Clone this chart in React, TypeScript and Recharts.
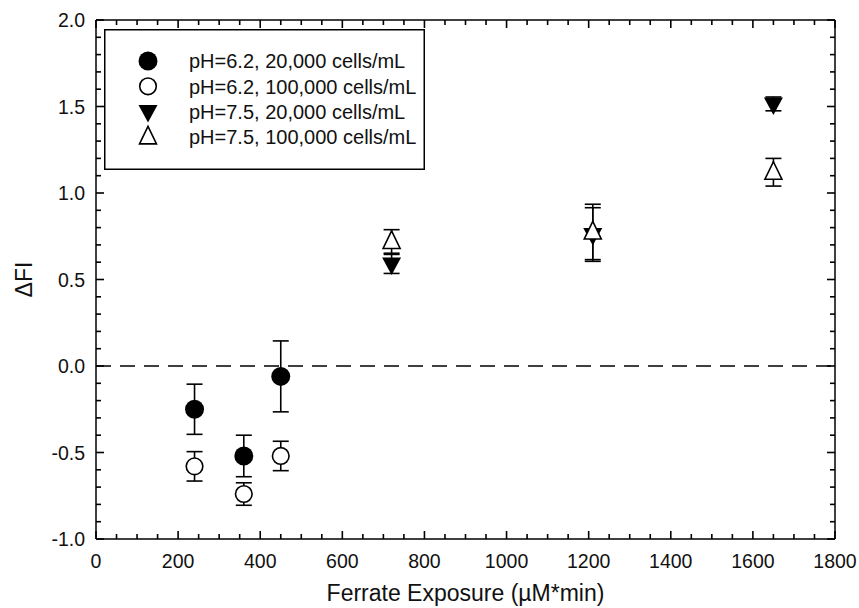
import {
	ScatterChart,
	Scatter,
	XAxis,
	YAxis,
	ErrorBar,
	ReferenceLine,
	Legend,
} from "recharts";

const FONT = '"Liberation Sans", Arial, sans-serif';
const CHART_W = 859;
const CHART_H = 608;
const MARGIN = { top: 19, right: 23, bottom: 0, left: 0 };
const PLOT_TOP = MARGIN.top + 1;
const PLOT_RIGHT = CHART_W - MARGIN.right - 1;

// tick positions (majors every 200 / 0.5, minors in between)
const xTicks = [
	0, 50, 100, 150, 200, 250, 300, 350, 400, 450, 500, 550, 600, 650, 700, 750,
	800, 850, 900, 950, 1000, 1050, 1100, 1150, 1200, 1250, 1300, 1350, 1400,
	1450, 1500, 1550, 1600, 1650, 1700, 1750, 1800,
];
const yTicks = [
	-1.0, -0.9, -0.8, -0.7, -0.6, -0.5, -0.4, -0.3, -0.2, -0.1, 0.0, 0.1, 0.2,
	0.3, 0.4, 0.5, 0.6, 0.7, 0.8, 0.9, 1.0, 1.1, 1.2, 1.3, 1.4, 1.5, 1.6, 1.7,
	1.8, 1.9, 2.0,
];

// ferrate exposure for the two pH groups
const exposurePh62 = [240, 360, 450];
const exposurePh75 = [720, 1210, 1650];

const ph62Low = [-0.25, -0.52, -0.06];
const ph62LowErr = [0.145, 0.12, 0.205];
const ph62High = [-0.58, -0.74, -0.52];
const ph62HighErr = [0.085, 0.065, 0.085];
const ph75Low = [0.59, 0.76, 1.515];
const ph75LowErr = [0.055, 0.155, 0.04];
const ph75High = [0.72, 0.775, 1.12];
const ph75HighErr = [0.068, 0.16, 0.08];

const seriesNames = [
	"pH=6.2, 20,000 cells/mL",
	"pH=6.2, 100,000 cells/mL",
	"pH=7.5, 20,000 cells/mL",
	"pH=7.5, 100,000 cells/mL",
];

const toRows = (xs: number[], ys: number[], errs: number[]) =>
	xs.map((x, i) => ({ x, y: ys[i], err: errs[i] }));

const FilledCircle = ({ cx, cy }: any) => (
	<circle cx={cx} cy={cy} r={9.5} fill="#000" />
);
const OpenCircle = ({ cx, cy }: any) => (
	<circle cx={cx} cy={cy} r={8.3} fill="#fff" stroke="#000" strokeWidth={1.6} />
);
const DownTriangle = ({ cx, cy }: any) => (
	<polygon
		points={`${cx - 9.5},${cy - 6.5} ${cx + 9.5},${cy - 6.5} ${cx},${cy + 11}`}
		fill="#000"
	/>
);
const UpTriangle = ({ cx, cy }: any) => (
	<polygon
		points={`${cx},${cy - 10.5} ${cx + 8.5},${cy + 7} ${cx - 8.5},${cy + 7}`}
		fill="#fff"
		stroke="#000"
		strokeWidth={1.6}
		strokeLinejoin="miter"
	/>
);

const markers = [FilledCircle, OpenCircle, DownTriangle, UpTriangle];

const isMajorX = (v: number) => v % 200 === 0;
const isMajorY = (v: number) => Math.abs(v * 2 - Math.round(v * 2)) < 1e-6;

const tickText = { fontFamily: FONT, fontSize: 19.5, fill: "#111" };
const tickStroke = { stroke: "#000", strokeWidth: 1.6 };

// bottom axis tick: draws the inward tick at the bottom and the matching one at the top frame
const BottomTick = ({ x, y, payload }: any) => {
	const len = isMajorX(payload.value) ? 8 : 5;
	return (
		<g>
			<line x1={x} x2={x} y1={y} y2={y - len} {...tickStroke} />
			<line x1={x} x2={x} y1={PLOT_TOP} y2={PLOT_TOP + len} {...tickStroke} />
			{isMajorX(payload.value) && (
				<text x={x} y={y + 29} textAnchor="middle" {...tickText}>
					{payload.value}
				</text>
			)}
		</g>
	);
};
// left axis tick: inward tick on the left plus the mirrored one on the right frame
const LeftTick = ({ x, y, payload }: any) => {
	const len = isMajorY(payload.value) ? 8 : 5;
	return (
		<g>
			<line x1={x} x2={x + len} y1={y} y2={y} {...tickStroke} />
			<line x1={PLOT_RIGHT} x2={PLOT_RIGHT - len} y1={y} y2={y} {...tickStroke} />
			{isMajorY(payload.value) && (
				<text x={x - 11} y={y} dy="0.36em" textAnchor="end" {...tickText}>
					{payload.value.toFixed(1)}
				</text>
			)}
		</g>
	);
};

const LegendBox = () => (
	<svg width={321} height={141} style={{ display: "block" }}>
		<rect x={0.75} y={0.75} width={319.5} height={139.5} fill="#fff" stroke="#000" strokeWidth={1.5} />
		{seriesNames.map((name, i) => {
			const Marker = markers[i];
			const cy = 32 + i * 25.3;
			return (
				<g key={name}>
					<Marker cx={44} cy={cy} />
					<text x={85} y={cy} dy="0.36em" fontFamily={FONT} fontSize={20} fill="#111">
						{name}
					</text>
				</g>
			);
		})}
	</svg>
);

export default function App() {
	return (
		<div style={{ position: "absolute", left: 0, top: 0, background: "#fff" }}>
			<ScatterChart width={CHART_W} height={CHART_H} margin={MARGIN}>
				<XAxis
					dataKey="x"
					type="number"
					domain={[0, 1800]}
					ticks={xTicks}
					interval={0}
					tickSize={0}
					tickMargin={0}
					tickLine={false}
					tick={BottomTick}
					height={69}
					axisLine={{ stroke: "#000", strokeWidth: 1.5 }}
					allowDataOverflow
					label={{
						content: ({ viewBox }: any) => (
							<text
								x={viewBox.x + viewBox.width / 2}
								y={601}
								textAnchor="middle"
								fontFamily={FONT}
								fontSize={23}
								fill="#111"
							>
								Ferrate Exposure (µM*min)
							</text>
						),
					}}
				/>
				<XAxis
					xAxisId="top"
					orientation="top"
					type="number"
					domain={[0, 1800]}
					tick={false}
					tickLine={false}
					height={1}
					axisLine={{ stroke: "#000", strokeWidth: 1.5 }}
					allowDataOverflow
				/>
				<YAxis
					dataKey="y"
					type="number"
					domain={[-1, 2]}
					ticks={yTicks}
					interval={0}
					tickSize={0}
					tickMargin={0}
					tickLine={false}
					tick={LeftTick}
					width={96}
					axisLine={{ stroke: "#000", strokeWidth: 1.5 }}
					allowDataOverflow
					label={{
						content: ({ viewBox }: any) => {
							const lx = viewBox.x + 24;
							const ly = viewBox.y + viewBox.height / 2;
							return (
								<text
									x={lx}
									y={ly}
									dy="0.36em"
									textAnchor="middle"
									transform={`rotate(-90 ${lx} ${ly})`}
									fontFamily={FONT}
									fontSize={23}
									fill="#111"
								>
									ΔFI
								</text>
							);
						},
					}}
				/>
				<YAxis
					yAxisId="right"
					orientation="right"
					type="number"
					domain={[-1, 2]}
					tick={false}
					tickLine={false}
					width={1}
					axisLine={{ stroke: "#000", strokeWidth: 1.5 }}
					allowDataOverflow
				/>
				<ReferenceLine y={0} stroke="#000" strokeWidth={1.5} strokeDasharray="15 9" />
				<Legend
					layout="vertical"
					align="center"
					verticalAlign="middle"
					content={LegendBox}
					wrapperStyle={{ left: 104, top: 29, width: 321, height: 141 }}
				/>
				<Scatter
					name={seriesNames[0]}
					data={toRows(exposurePh62, ph62Low, ph62LowErr)}
					shape={FilledCircle}
					isAnimationActive={false}
				>
					<ErrorBar dataKey="err" direction="y" width={8} stroke="#000" strokeWidth={1.6} />
				</Scatter>
				<Scatter
					name={seriesNames[1]}
					data={toRows(exposurePh62, ph62High, ph62HighErr)}
					shape={OpenCircle}
					isAnimationActive={false}
				>
					<ErrorBar dataKey="err" direction="y" width={8} stroke="#000" strokeWidth={1.6} />
				</Scatter>
				<Scatter
					name={seriesNames[2]}
					data={toRows(exposurePh75, ph75Low, ph75LowErr)}
					shape={DownTriangle}
					isAnimationActive={false}
				>
					<ErrorBar dataKey="err" direction="y" width={8} stroke="#000" strokeWidth={1.6} />
				</Scatter>
				<Scatter
					name={seriesNames[3]}
					data={toRows(exposurePh75, ph75High, ph75HighErr)}
					shape={UpTriangle}
					isAnimationActive={false}
				>
					<ErrorBar dataKey="err" direction="y" width={8} stroke="#000" strokeWidth={1.6} />
				</Scatter>
			</ScatterChart>
		</div>
	);
}
